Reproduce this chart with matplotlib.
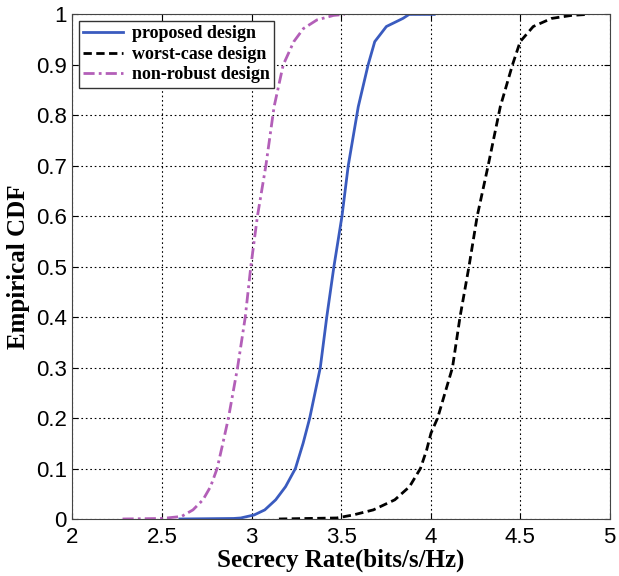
import matplotlib
matplotlib.use("Agg")
from matplotlib import pyplot as plt

# curve points (secrecy rate, empirical CDF)
proposed_x = [2.60, 2.90, 2.94, 3.015, 3.074, 3.135, 3.19, 3.245, 3.288, 3.325, 3.384,
              3.42, 3.46, 3.505, 3.54, 3.596, 3.651, 3.688, 3.753, 3.845, 3.88, 4.02]
proposed_y = [0.0, 0.001, 0.002, 0.008, 0.018, 0.038, 0.064, 0.1, 0.15, 0.2, 0.3,
              0.4, 0.5, 0.6, 0.7, 0.817, 0.9, 0.946, 0.976, 0.992, 1.0, 1.0]

worst_x = [3.153, 3.476, 3.568, 3.68, 3.80, 3.882, 3.943, 3.978, 4.002, 4.039, 4.122,
           4.164, 4.214, 4.26, 4.321, 4.389, 4.457, 4.5, 4.573, 4.675, 4.786, 4.878]
worst_y = [0.0, 0.002, 0.008, 0.018, 0.038, 0.064, 0.1, 0.137, 0.17, 0.2, 0.3,
           0.4, 0.5, 0.6, 0.7, 0.817, 0.9, 0.946, 0.976, 0.992, 0.998, 1.0]

nonrobust_x = [2.28, 2.50, 2.609, 2.673, 2.729, 2.771, 2.808, 2.84, 2.871, 2.922, 2.965,
               2.996, 3.033, 3.08, 3.126, 3.177, 3.236, 3.29, 3.365, 3.458, 3.52]
nonrobust_y = [0.0, 0.001, 0.005, 0.018, 0.038, 0.064, 0.1, 0.15, 0.2, 0.3, 0.4,
               0.5, 0.6, 0.7, 0.817, 0.9, 0.946, 0.972, 0.989, 0.998, 1.0]

xticks = [2, 2.5, 3, 3.5, 4, 4.5, 5]
xtick_labels = ["2", "2.5", "3", "3.5", "4", "4.5", "5"]
yticks = [0, 0.1, 0.2, 0.3, 0.4, 0.5, 0.6, 0.7, 0.8, 0.9, 1]
ytick_labels = ["0", "0.1", "0.2", "0.3", "0.4", "0.5", "0.6", "0.7", "0.8", "0.9", "1"]

fig = plt.figure(figsize=(6.19, 5.76), dpi=100)
ax = fig.add_axes([0.117, 0.099, 0.868, 0.876])

ax.plot(proposed_x, proposed_y, color="#3a5bbf", lw=2.0, ls="-", label="proposed design")
ax.plot(worst_x, worst_y, color="black", lw=2.0, ls=(0, (3, 1.6)), label="worst-case design")
ax.plot(nonrobust_x, nonrobust_y, color="#b35fb8", lw=2.0, ls=(0, (4, 1.5, 1, 1.5)),
        label="non-robust design")

ax.set_xlim(2, 5)
ax.set_ylim(0, 1)
ax.set_xticks(xticks)
ax.set_xticklabels(xtick_labels)
ax.set_yticks(yticks)
ax.set_yticklabels(ytick_labels)
ax.tick_params(direction="in", top=True, right=True, labelsize=16, length=4, pad=4)
ax.tick_params(axis="x", pad=6)
for lab in ax.get_xticklabels() + ax.get_yticklabels():
    lab.set_family("Liberation Sans")
ax.grid(True, color="black", ls=(0, (1.5, 2.5)), lw=0.8)
for s in ax.spines.values():
    s.set_color("#444444")

ax.set_xlabel("Secrecy Rate(bits/s/Hz)", family="Liberation Serif", fontweight="bold",
              fontsize=18, labelpad=0)
ax.set_ylabel("Empirical CDF", family="Liberation Serif", fontweight="bold",
              fontsize=18, labelpad=4)

leg = ax.legend(loc="upper left", prop={"family": "Liberation Serif", "weight": "bold", "size": 13},
                fancybox=False, edgecolor="#333333", framealpha=1, borderaxespad=0.35,
                handlelength=2.2, handletextpad=0.5, labelspacing=0.2, borderpad=0.25)
leg.get_frame().set_linewidth(1.0)

fig.savefig("out.png", dpi=100)
